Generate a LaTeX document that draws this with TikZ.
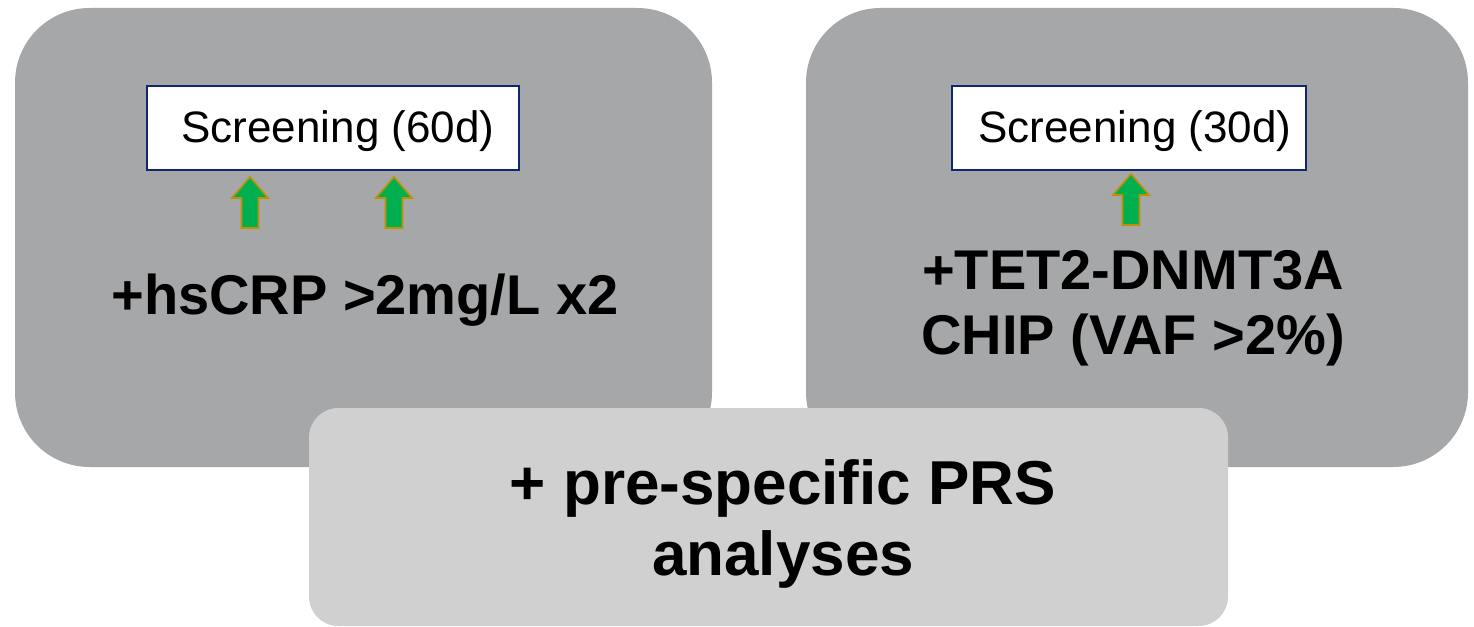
\documentclass[tikz,border=0pt]{standalone}
\usepackage{fontspec}
\setmainfont{Liberation Sans}
\begin{document}
\begin{tikzpicture}[x=0.75pt,y=-0.75pt,
  panel/.style={fill=panelgray,draw=none},
  lightpanel/.style={fill=lightgray2,draw=none},
  screenbox/.style={draw=navy,line width=1.5pt,fill=white,minimum width=279pt,minimum height=63pt,inner sep=0pt},
  screentext/.style={font=\fontsize{33}{38}\selectfont,inner sep=0pt},
  bigtext/.style={font=\bfseries\fontsize{42}{49}\selectfont,align=center},
  uparrow/.style={fill=arrowgreen,draw=arrowgold,line width=1.2pt,line join=miter}
]
\definecolor{panelgray}{HTML}{A6A7A9}
\definecolor{lightgray2}{HTML}{D0D0D0}
\definecolor{navy}{HTML}{0F2770}
\definecolor{arrowgreen}{HTML}{00B050}
\definecolor{arrowgold}{HTML}{BF9000}
\useasboundingbox (0,0) rectangle (1474,627);
\fill[white] (0,0) rectangle (1474,627);
% panels
\path[panel,rounded corners=56pt] (15,8) rectangle (712,467);
\path[panel,rounded corners=56pt] (806,8) rectangle (1468,467);
% screening boxes
\node[screenbox] (s60) at (333,128) {};
\node[screentext] (t60) at (338,131) {Screening (60d)};
\node[screenbox,minimum width=265pt] (s30) at (1129,128) {};
\node[screentext] (t30) at (1135,131) {Screening (30d)};
% arrows
\foreach \cx/\ty [count=\i] in {250/177,394/177,1131/174}{
  \path[uparrow] (\cx-8.5,\ty+51) -- (\cx-8.5,\ty+21) -- (\cx-18,\ty+21) -- (\cx,\ty) -- (\cx+18,\ty+21) -- (\cx+8.5,\ty+21) -- (\cx+8.5,\ty+51) -- cycle;
}
% texts
\node[bigtext] (crp) at (365,300) {+hsCRP >2mg/L x2};
\node[bigtext] (tet) at (1133,308) {+TET2-DNMT3A\\CHIP (VAF >2\%)};
% bottom panel
\path[lightpanel,rounded corners=22pt] (309,408) rectangle (1228,626);
\node[bigtext,font=\bfseries\fontsize{46.5}{53}\selectfont] (prs) at (783,524) {+ pre-specific PRS\\analyses};
\end{tikzpicture}
\end{document}
